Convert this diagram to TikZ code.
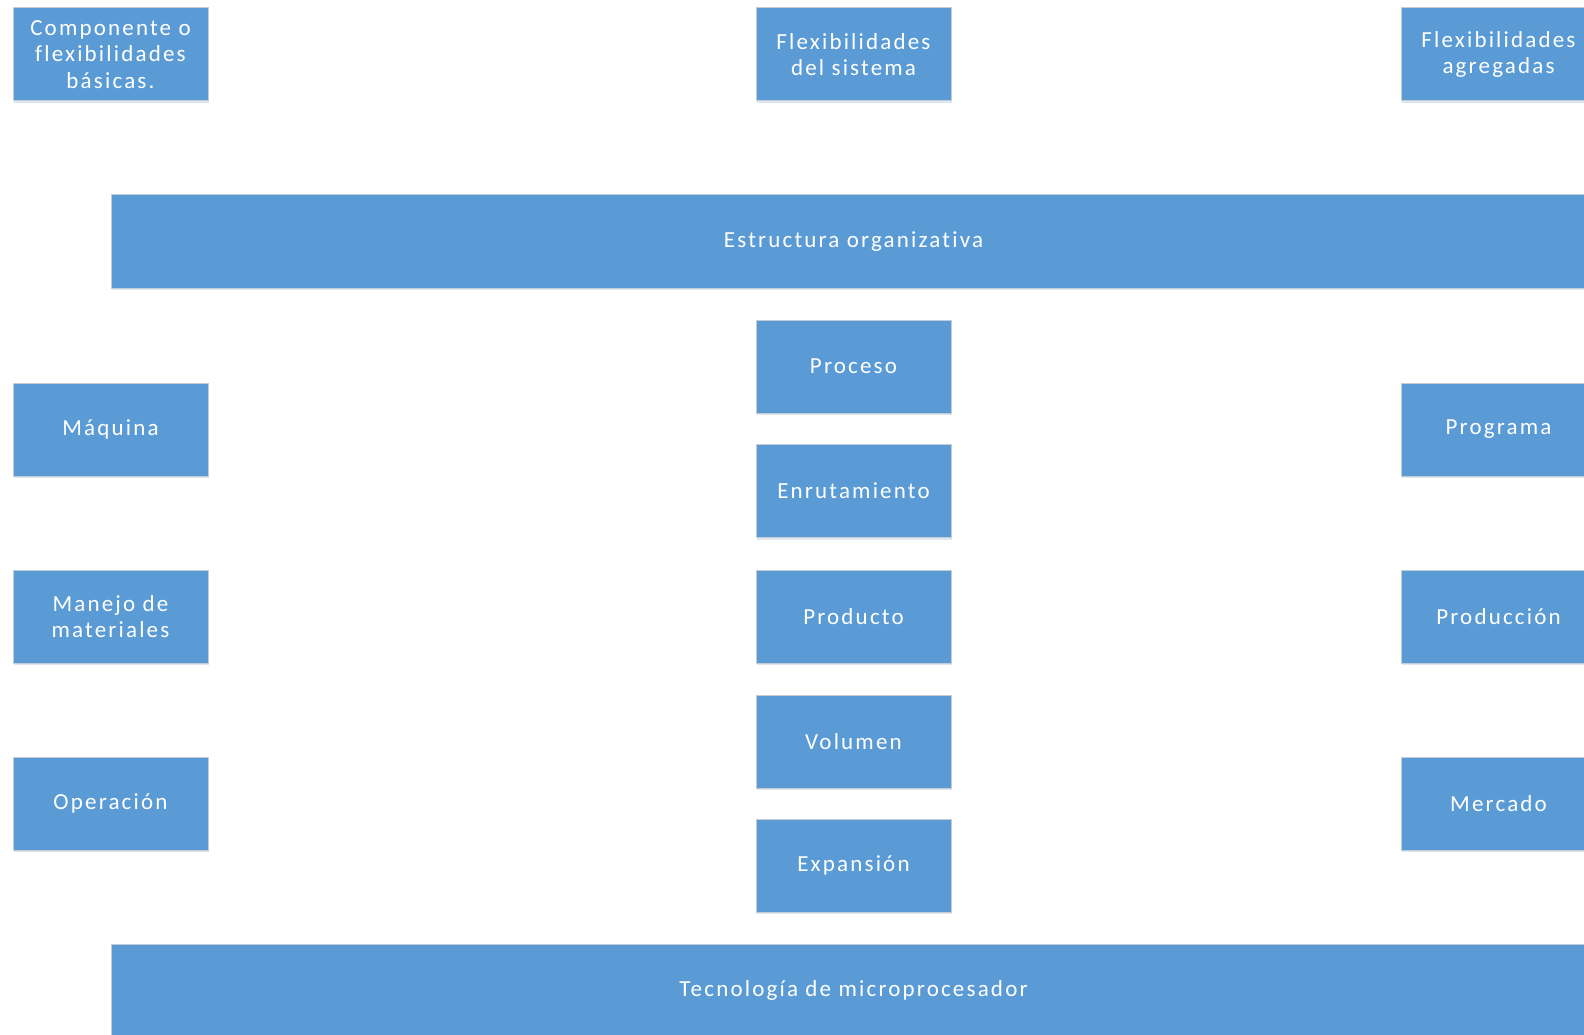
\documentclass[tikz,border=0pt]{standalone}
\usepackage{fontspec}
\setmainfont{Carlito}[LetterSpace=9.5,Ligatures=NoCommon]
\usetikzlibrary{shadows}
\definecolor{boxblue}{HTML}{5B9BD5}
\definecolor{boxedge}{HTML}{C4CCD6}
\definecolor{shadowc}{HTML}{C9D6E6}
\begin{document}
\begin{tikzpicture}[x=1pt,y=-1pt,
  box/.style={rectangle, fill=boxblue, draw=boxedge, line width=1pt,
    text=white, align=center, inner sep=0pt,
    minimum width=195pt, minimum height=93pt,
    drop shadow={shadow xshift=1pt, shadow yshift=-2pt, fill=shadowc, opacity=0.6},
    font=\fontsize{23}{26.5}\selectfont},
  wide/.style={box, minimum width=1485pt}]
\useasboundingbox (0,0) rectangle (1584,1035);
\clip (0,0) rectangle (1584,1035);
\fill[white] (0,0) rectangle (1584,1035);
% top row
\node[box] (comp) at (110.5,54.5) {Componente o\\flexibilidades\\básicas.};
\node[box] (sist) at (853.5,54.5) {Flexibilidades\\del sistema};
\node[box] (agre) at (1498.5,54.5) {Flexibilidades\\agregadas};
% organizational structure
\node[wide] (estr) at (853.5,241.5) {Estructura organizativa};
% center column
\node[box] (proc) at (853.5,366.5) {Proceso};
\node[box] (enru) at (853.5,491) {Enrutamiento};
\node[box] (prod) at (853.5,616.5) {Producto};
\node[box] (volu) at (853.5,741.5) {Volumen};
\node[box] (expa) at (853.5,865.5) {Expansión};
% left column
\node[box] (maqu) at (110.5,429.5) {Máquina};
\node[box] (mane) at (110.5,616.5) {Manejo de\\materiales};
\node[box] (oper) at (110.5,803.5) {Operación};
% right column
\node[box] (prog) at (1498.5,429.5) {Programa};
\node[box] (prdn) at (1498.5,616.5) {Producción};
\node[box] (merc) at (1498.5,803.5) {Mercado};
% technology
\node[wide] (tecn) at (853.5,990.5) {Tecnología de microprocesador};
\end{tikzpicture}
\end{document}
